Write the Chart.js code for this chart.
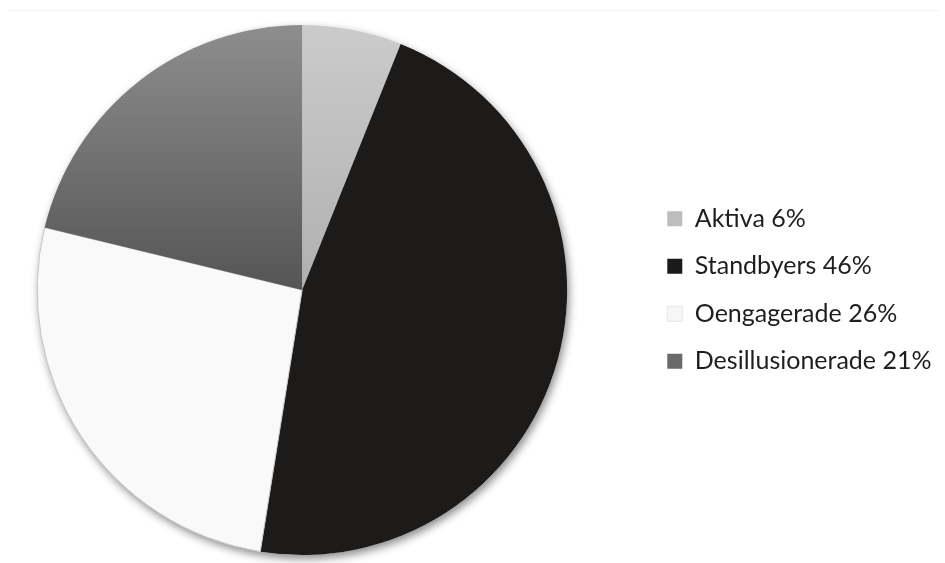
<!DOCTYPE html>
<html>
<head>
<meta charset="utf-8">
<script src="https://cdn.jsdelivr.net/npm/chart.js@4.4.0/dist/chart.umd.min.js"></script>
<style>
  html, body { margin: 0; padding: 0; background: #fff; }
  #wrap { position: relative; width: 945px; height: 563px; overflow: hidden; }
  #topline { position: absolute; left: 8px; right: 6px; top: 10px; border-top: 1px solid #f2f2f2; }
  /* canvas is a bit wider than the page so the pie can sit further left */
  #pie { position: absolute; left: -100px; top: 0; }
</style>
</head>
<body>
<div id="wrap">
  <div id="topline"></div>
  <canvas id="pie" width="1100" height="563"></canvas>
</div>
<script>
// data
const categories = ["Aktiva", "Standbyers", "Oengagerade", "Desillusionerade"];
const shares = [6, 46, 26, 21];
const legendColors = ["#bdbdbd", "#1c1a19", "#f6f6f6", "#6a6a6a"];

// vertical gradients like the original (light top, darker toward centre)
function sliceFill(index, area) {
    const ctx = document.getElementById("pie").getContext("2d");
    const mid = (area.top + area.bottom) / 2;
    if (index === 0) {
        const g = ctx.createLinearGradient(0, area.top, 0, mid);
        g.addColorStop(0, "#cbcbcb");
        g.addColorStop(1, "#b0b0b0");
        return g;
    }
    if (index === 3) {
        const g = ctx.createLinearGradient(0, area.top, 0, mid);
        g.addColorStop(0, "#8e8e8e");
        g.addColorStop(1, "#555555");
        return g;
    }
    return index === 1 ? "#1d1b1a" : "#f9f9f9";
}

const pieShadow = {
    id: "pieShadow",
    beforeDatasetsDraw(chart) {
        const arc = chart.getDatasetMeta(0).data[0];
        if (!arc) return;
        const c = chart.ctx;
        c.save();
        c.shadowColor = "rgba(0,0,0,0.45)";
        c.shadowBlur = 9;
        c.shadowOffsetX = 2;
        c.shadowOffsetY = 4;
        c.beginPath();
        c.arc(arc.x, arc.y, arc.outerRadius, 0, Math.PI * 2);
        c.fillStyle = "#ffffff";
        c.fill();
        c.restore();
    }
};

new Chart(document.getElementById("pie"), {
    type: "pie",
    data: {
        labels: categories,
        datasets: [{
            data: shares,
            backgroundColor(context) {
                const area = context.chart.chartArea;
                if (!area) return legendColors[context.dataIndex];
                return sliceFill(context.dataIndex, area);
            },
            borderWidth: [0, 0, 1, 0],
            borderColor: ["#bbb", "#1d1b1a", "#c4c4c4", "#666"],
            radius: 265
        }]
    },
    options: {
        responsive: false,
        animation: false,
        layout: { padding: { left: 59.5, right: 58.5, top: 24, bottom: 7 } },
        plugins: {
            tooltip: { enabled: false },
            legend: {
                position: "right",
                align: "center",
                labels: {
                    boxWidth: 15,
                    boxHeight: 15,
                    padding: 22.5,
                    color: "#1e1e1e",
                    font: { family: "Lato", size: 25 },
                    generateLabels() {
                        return categories.map((c, i) => ({
                            text: c + " " + shares[i] + "%",
                            fillStyle: legendColors[i],
                            strokeStyle: i === 2 ? "#e6e6e6" : legendColors[i],
                            lineWidth: i === 2 ? 1 : 0,
                            fontColor: "#1e1e1e",
                            hidden: false,
                            index: i
                        }));
                    }
                }
            }
        }
    },
    plugins: [pieShadow]
});
</script>
</body>
</html>
